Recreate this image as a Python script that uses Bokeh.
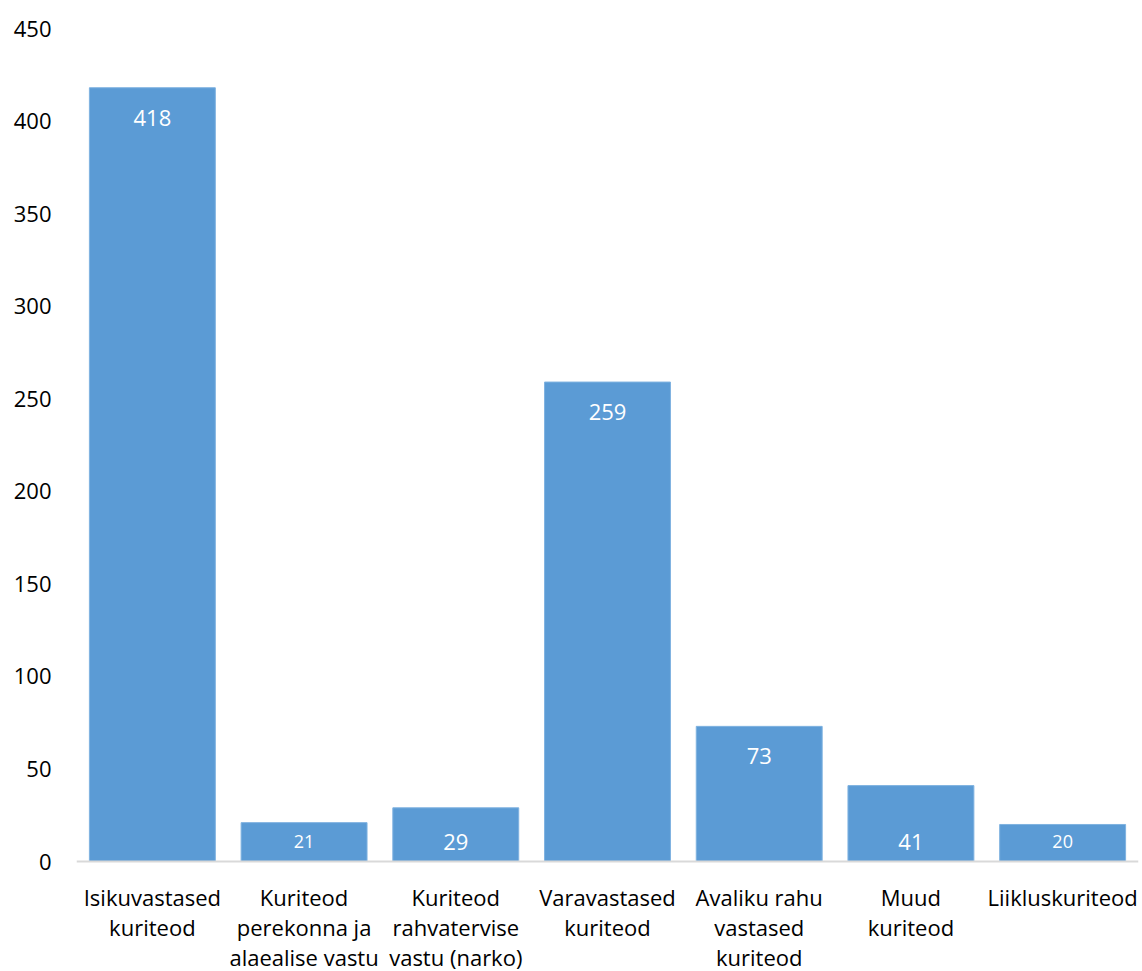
from bokeh.plotting import figure
from bokeh.models import ColumnDataSource, Range1d, FactorRange, Span
from bokeh.core.properties import value
from bokeh.embed import file_html
from bokeh.resources import INLINE

categories = [
    "Isikuvastased\nkuriteod",
    "Kuriteod\nperekonna ja\nalaealise vastu",
    "Kuriteod\nrahvatervise\nvastu (narko)",
    "Varavastased\nkuriteod",
    "Avaliku rahu\nvastased\nkuriteod",
    "Muud\nkuriteod",
    "Liikluskuriteod",
]
counts = [418, 21, 29, 259, 73, 41, 20]
y_ticks = [0, 50, 100, 150, 200, 250, 300, 350, 400, 450]

FONT = "Open Sans"
BAR = "#5B9BD5"

W, H = 1142, 971
TOP, BOTTOM = 28, 110
Y_MAX = 450
px_per_unit = (H - TOP - BOTTOM) / Y_MAX
y_min = -BOTTOM / px_per_unit  # room below the baseline for the category texts

# label placement: inside top for tall bars, near base for short ones
label_y = [v if v > 60 else 0 for v in counts]
label_off = [30 if v > 60 else -20 for v in counts]
label_size = ["18px" if v < 25 else "22px" for v in counts]

src = ColumnDataSource(dict(
    cat=categories, val=counts,
    ly=label_y, loff=label_off, lsize=label_size,
    txt=[str(v) for v in counts],
))

p = figure(
    width=W, height=H,
    x_range=FactorRange(*categories, range_padding=0),
    y_range=Range1d(y_min, Y_MAX),
    output_backend="svg", toolbar_location=None,
    min_border_left=76, min_border_right=4,
    min_border_top=TOP, min_border_bottom=0,
)
p.outline_line_color = None
p.xgrid.grid_line_color = None
p.ygrid.grid_line_color = None
p.background_fill_color = "white"
p.border_fill_color = "white"
p.xaxis.visible = False

p.add_layout(Span(location=0, dimension="width", line_color="#D9D9D9", line_width=2))

p.vbar(x="cat", top="val", width=0.83, source=src,
       fill_color=BAR, line_color="#7FB2E0", line_width=1)

p.text(x="cat", y="ly", text="txt", source=src,
       y_offset="loff", text_font_size="lsize",
       text_font=value(FONT), text_color="white",
       text_align="center", text_baseline="middle")

# category labels, one row per text line
lx, ltxt, loffs = [], [], []
for c in categories:
    for i, line in enumerate(c.split("\n")):
        lx.append(c)
        ltxt.append(line)
        loffs.append(35 + 30 * i)
cat_src = ColumnDataSource(dict(x=lx, t=ltxt, off=loffs, y=[0] * len(lx)))
p.text(x="x", y="y", text="t", y_offset="off", source=cat_src,
       text_font=value(FONT), text_font_size="22px", text_color="#000000",
       text_align="center", text_baseline="middle")

ya = p.yaxis[0]
ya.ticker = y_ticks
ya.axis_line_color = None
ya.major_tick_line_color = None
ya.minor_tick_line_color = None
ya.major_label_text_font = FONT
ya.major_label_text_font_size = "22px"
ya.major_label_text_color = "#000000"
ya.major_label_standoff = 19

open("out.html", "w").write(file_html(p, INLINE))
